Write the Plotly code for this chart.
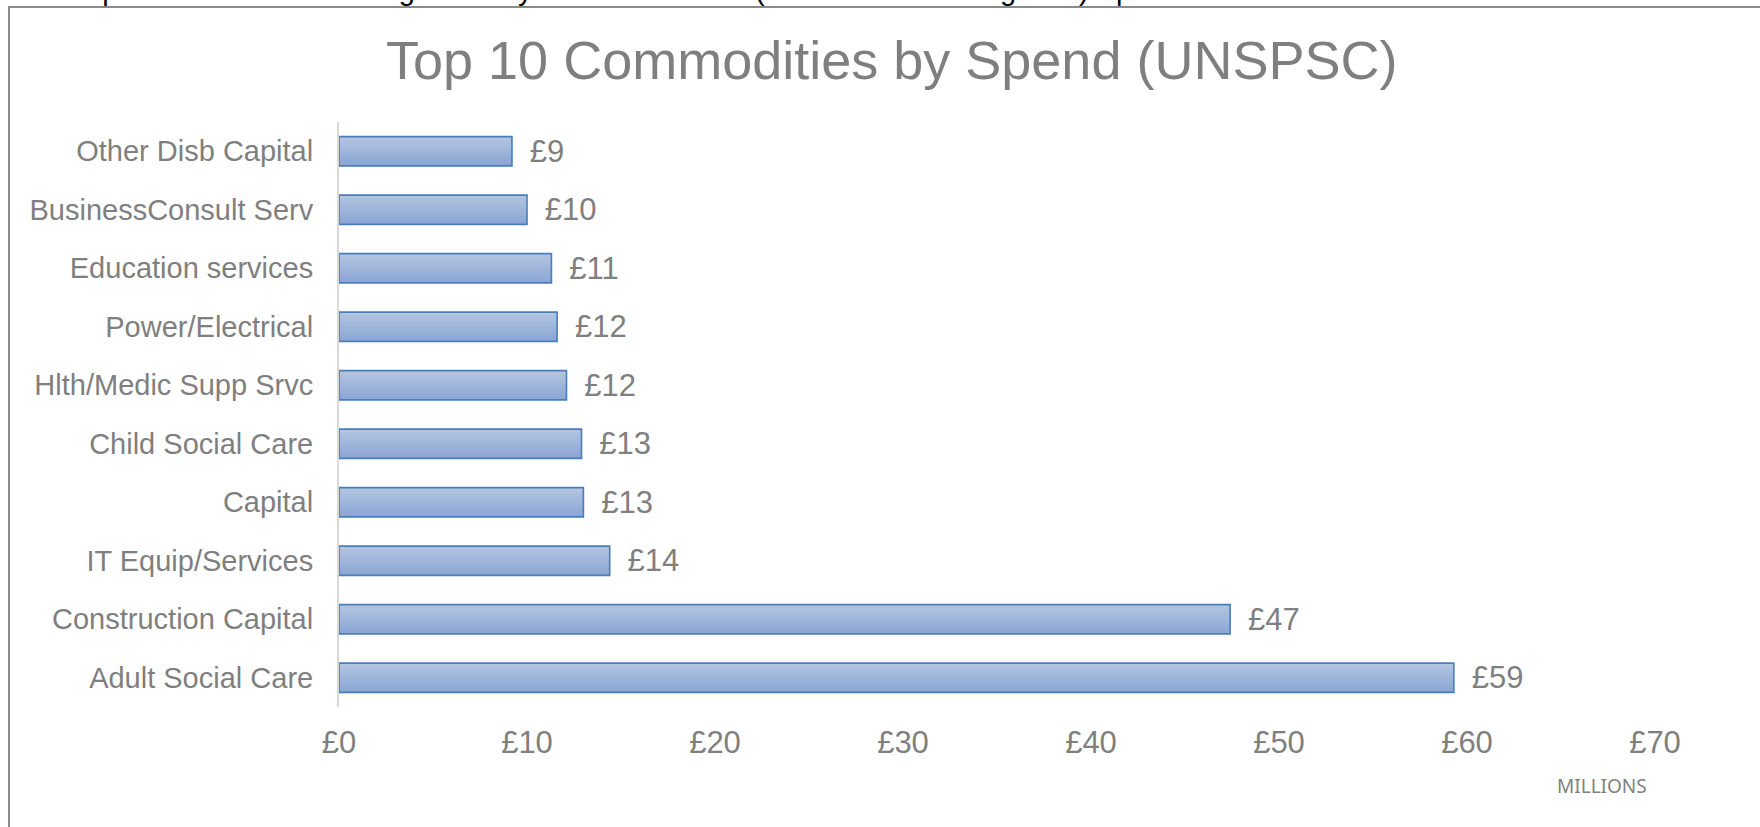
import plotly.graph_objects as go

# Spend per UNSPSC commodity group, £ millions (bottom to top on the chart)
categories = [
    "Adult Social Care",
    "Construction Capital",
    "IT Equip/Services",
    "Capital",
    "Child Social Care",
    "Hlth/Medic Supp Srvc",
    "Power/Electrical",
    "Education services",
    "BusinessConsult Serv",
    "Other Disb Capital",
]
spend_millions = [59.3, 47.4, 14.4, 13.0, 12.9, 12.1, 11.6, 11.3, 10.0, 9.2]

x_tick_values = [0, 10, 20, 30, 40, 50, 60, 70]
x_tick_labels = ["£0", "£10", "£20", "£30", "£40", "£50", "£60", "£70"]

title_text = "Top 10 Commodities by Spend (UNSPSC)"
units_text = "MILLIONS"
heading_text = ("The Top 10 Commodities categorised by UNSPSC codes "
                "(Procurement Categories) Spend in Total")

# Page and plot-area geometry in pixels
W, H = 1760, 827
L, R, T, B = 339, 1655, 122, 707

GREY = "#7f7f7f"
FONT = "Liberation Sans, Arial, sans-serif"


def px(x):
    return (x - L) / (R - L)


def py(y):
    return (B - y) / (B - T)


BAR_W = 0.5
STEPS = 10
bottom_rgb = (140, 167, 211)
top_rgb = (177, 196, 225)

fig = go.Figure()

# Vertical gradient fill: stacked layers anchored to each bar's top edge
for k in range(STEPS):
    h = BAR_W * (STEPS - k) / STEPS
    t = k / (STEPS - 1)
    rgb = tuple(round(b + (tp - b) * t) for b, tp in zip(bottom_rgb, top_rgb))
    fig.add_trace(go.Bar(
        y=categories,
        x=spend_millions,
        orientation="h",
        width=h,
        offset=BAR_W / 2 - h,
        marker=dict(color="rgb(%d,%d,%d)" % rgb, line=dict(width=0)),
        hoverinfo="skip",
        showlegend=False,
    ))

# Outline and value labels
fig.add_trace(go.Bar(
    y=categories,
    x=spend_millions,
    orientation="h",
    width=BAR_W,
    offset=-BAR_W / 2,
    marker=dict(color="rgba(0,0,0,0)", line=dict(color="#4a7ebb", width=1.6)),
    texttemplate="\u00a0\u2009£%{x:.0f}",
    textposition="outside",
    constraintext="none",
    textfont=dict(size=31, color=GREY, family=FONT),
    cliponaxis=False,
    showlegend=False,
))

fig.update_layout(
    width=W,
    height=H,
    autosize=False,
    barmode="overlay",
    margin=dict(l=L, r=W - R, t=T, b=H - B, pad=0),
    paper_bgcolor="white",
    plot_bgcolor="white",
    font=dict(family=FONT, color=GREY),
    xaxis=dict(
        range=[0, 70],
        tickmode="array",
        tickvals=x_tick_values,
        ticktext=x_tick_labels,
        showgrid=False,
        zeroline=False,
        showline=False,
        ticks="",
        tickfont=dict(size=31, color=GREY, family=FONT),
        ticklabelstandoff=14,
    ),
    yaxis=dict(
        type="category",
        categoryorder="array",
        categoryarray=categories,
        range=[-0.5, 9.5],
        showgrid=False,
        zeroline=False,
        showline=True,
        linecolor="#d9d9d9",
        linewidth=2,
        ticks="",
        tickfont=dict(size=29, color=GREY, family=FONT),
        ticklabelstandoff=18,
    ),
    shapes=[
        dict(type="rect", xref="paper", yref="paper",
             x0=px(9), x1=px(1800), y0=py(880), y1=py(7),
             line=dict(color="#8a8a8a", width=2), fillcolor="rgba(0,0,0,0)",
             layer="below"),
    ],
    annotations=[
        dict(text=title_text, xref="paper", yref="paper",
             x=px(891), y=py(60), xanchor="center", yanchor="middle",
             showarrow=False, font=dict(size=54, color=GREY, family=FONT)),
        dict(text=units_text, xref="paper", yref="paper",
             x=px(1602), y=py(786), xanchor="center", yanchor="middle",
             showarrow=False, font=dict(size=19, color=GREY, family="Noto Sans, sans-serif")),
        dict(text=heading_text, xref="paper", yref="paper",
             x=px(12), y=py(-10), xanchor="left", yanchor="middle",
             showarrow=False, font=dict(size=29, color="black", family=FONT)),
    ],
)

fig.write_html("out.html")
